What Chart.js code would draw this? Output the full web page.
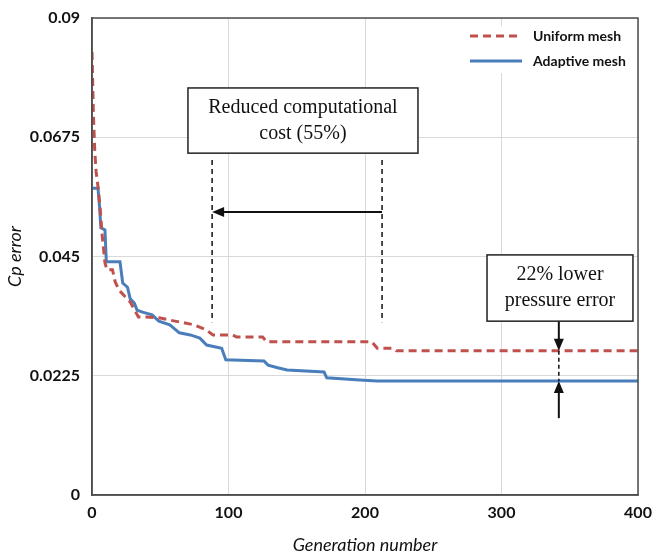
<!DOCTYPE html>
<html>
<head>
<meta charset="utf-8">
<script src="https://cdn.jsdelivr.net/npm/chart.js@4.4.1/dist/chart.umd.min.js"></script>
<style>
  html, body { margin: 0; padding: 0; background: #fff; }
  #wrap { width: 654px; height: 558px; position: relative; }
</style>
</head>
<body>
<div id="wrap"><canvas id="grafico" width="654" height="558"></canvas></div>
<script>
// ─── Dados ────────────────────────────────────────────────────────────────────
const yTicks = [0, 0.0225, 0.045, 0.0675, 0.09];
const yTickLabels = ['0', '0.0225', '0.045', '0.0675', '0.09'];
const xTicks = [0, 100, 200, 300, 400];

const uniformGen = [0, 1, 2, 3, 4.5, 6, 7.3, 9.5, 11, 15, 17, 20, 28, 34, 40, 50, 57, 75, 84, 88.6, 103, 106, 125, 128, 205, 209, 220, 223, 400];
const uniformErr = [0.0836, 0.072, 0.065, 0.061, 0.058, 0.054, 0.0494, 0.0438, 0.0425, 0.0425, 0.0402, 0.0386, 0.0364, 0.0336, 0.0336, 0.0334, 0.0330, 0.0321, 0.0311, 0.0302, 0.0302, 0.0298, 0.0298, 0.0289, 0.0289, 0.0277, 0.0277, 0.0272, 0.0272];

const adaptiveGen = [0, 4.4, 5.5, 6.5, 9.5, 10.5, 20.5, 22.5, 26, 28, 31, 33, 37, 44, 49, 57, 64, 72, 79, 84, 95, 98, 126, 129, 136, 143, 170, 172, 196, 209, 400];
const adaptiveErr = [0.0579, 0.0579, 0.0545, 0.0504, 0.0500, 0.0440, 0.0440, 0.0400, 0.0392, 0.0370, 0.0362, 0.0349, 0.0345, 0.0340, 0.0328, 0.0321, 0.0306, 0.0302, 0.0296, 0.0283, 0.0277, 0.0255, 0.0253, 0.0245, 0.0240, 0.0236, 0.0232, 0.0221, 0.0217, 0.0215, 0.0215];

const seriesNames = ['Uniform mesh', 'Adaptive mesh'];

// ─── Estilos ──────────────────────────────────────────────────────────────────
const COR_UNIFORME = '#c0504d';
const COR_ADAPTIVA = '#4a7ebb';
const FONTE_EIXO = 'Lato, "Open Sans", sans-serif';
const FONTE_NOTA = '"Liberation Serif", "DejaVu Serif", serif';

function pares(xs, ys) {
  return xs.map((x, i) => ({ x, y: ys[i] }));
}

// ─── Anotações (caixas, setas, tracejados) ───────────────────────────────────
function seta(ctx, x1, y1, x2, y2) {
  const ang = Math.atan2(y2 - y1, x2 - x1);
  const tam = 12;
  ctx.beginPath();
  ctx.moveTo(x1, y1);
  ctx.lineTo(x2 - Math.cos(ang) * tam * 0.8, y2 - Math.sin(ang) * tam * 0.8);
  ctx.stroke();
  ctx.beginPath();
  ctx.moveTo(x2, y2);
  ctx.lineTo(x2 - tam * Math.cos(ang) + 5 * Math.sin(ang), y2 - tam * Math.sin(ang) - 5 * Math.cos(ang));
  ctx.lineTo(x2 - tam * Math.cos(ang) - 5 * Math.sin(ang), y2 - tam * Math.sin(ang) + 5 * Math.cos(ang));
  ctx.closePath();
  ctx.fill();
}

function caixaTexto(ctx, x1, y1, x2, y2, linhas) {
  ctx.fillStyle = '#fff';
  ctx.fillRect(x1, y1, x2 - x1, y2 - y1);
  ctx.strokeStyle = '#222';
  ctx.lineWidth = 1.5;
  ctx.strokeRect(x1, y1, x2 - x1, y2 - y1);
  ctx.fillStyle = '#111';
  ctx.font = '20px ' + FONTE_NOTA;
  ctx.textAlign = 'center';
  ctx.textBaseline = 'middle';
  const cx = (x1 + x2) / 2;
  const cy = (y1 + y2) / 2;
  const passo = 26;
  linhas.forEach((t, i) => ctx.fillText(t, cx, cy + (i - (linhas.length - 1) / 2) * passo));
}

const anotacoes = {
  id: 'anotacoes',
  afterDraw(chart) {
    const { ctx, chartArea: a, scales: { x, y } } = chart;
    const px = v => x.getPixelForValue(v);
    const py = v => y.getPixelForValue(v);

    // moldura do gráfico
    ctx.save();
    ctx.strokeStyle = '#4d4d4d';
    ctx.lineWidth = 1.5;
    ctx.strokeRect(a.left, a.top, a.right - a.left, a.bottom - a.top);

    // custo computacional
    ctx.strokeStyle = '#111';
    ctx.fillStyle = '#111';
    ctx.lineWidth = 1.5;
    ctx.setLineDash([5, 4]);
    [88, 212.5].forEach(g => {
      ctx.beginPath();
      ctx.moveTo(px(g), py(0.0632));
      ctx.lineTo(px(g), py(0.0326));
      ctx.stroke();
    });
    ctx.setLineDash([]);
    ctx.lineWidth = 2;
    seta(ctx, px(212.5), py(0.0534), px(88), py(0.0534));
    caixaTexto(ctx, px(70.3), py(0.0768), px(238.8), py(0.0645),
      ['Reduced computational', 'cost (55%)']);

    // diferença final de erro
    const gx = px(342);
    const fimU = uniformErr[uniformErr.length - 1];
    const fimA = adaptiveErr[adaptiveErr.length - 1];
    ctx.strokeStyle = '#111';
    ctx.fillStyle = '#111';
    ctx.lineWidth = 1.5;
    ctx.setLineDash([4, 3]);
    ctx.beginPath();
    ctx.moveTo(gx, py(fimU));
    ctx.lineTo(gx, py(fimA));
    ctx.stroke();
    ctx.setLineDash([]);
    ctx.lineWidth = 2;
    seta(ctx, gx, py(0.0328), gx, py(fimU));
    seta(ctx, gx, py(0.0145), gx, py(fimA));
    caixaTexto(ctx, px(289.4), py(0.0453), px(396.3), py(0.0328),
      ['22% lower', 'pressure error']);

    // legenda
    ctx.fillStyle = '#fff';
    ctx.fillRect(462, 26, 172, 47);
    chart.data.datasets.forEach((ds, i) => {
      const yy = 36 + i * 25;
      ctx.strokeStyle = ds.borderColor;
      ctx.lineWidth = 3;
      ctx.setLineDash(ds.borderDash || []);
      ctx.beginPath();
      ctx.moveTo(470, yy);
      ctx.lineTo(522, yy);
      ctx.stroke();
      ctx.setLineDash([]);
      ctx.fillStyle = '#111';
      ctx.font = 'bold 14px ' + FONTE_EIXO;
      ctx.textAlign = 'left';
      ctx.textBaseline = 'middle';
      ctx.fillText(ds.label, 533, yy);
    });
    ctx.restore();
  }
};

// ─── Gráfico ──────────────────────────────────────────────────────────────────
new Chart(document.getElementById('grafico'), {
  type: 'line',
  data: {
    datasets: [
      {
        label: seriesNames[0],
        data: pares(uniformGen, uniformErr),
        borderColor: COR_UNIFORME,
        borderWidth: 3,
        borderDash: [8, 5],
        pointRadius: 0,
        tension: 0,
        fill: false,
      },
      {
        label: seriesNames[1],
        data: pares(adaptiveGen, adaptiveErr),
        borderColor: COR_ADAPTIVA,
        borderWidth: 3,
        pointRadius: 0,
        tension: 0,
        fill: false,
      },
    ],
  },
  options: {
    responsive: false,
    animation: false,
    layout: { padding: { top: 18, right: 16, left: 0, bottom: 0 } },
    plugins: { legend: { display: false }, tooltip: { enabled: false } },
    scales: {
      x: {
        type: 'linear',
        min: 0, max: 400,
        afterBuildTicks: s => { s.ticks = xTicks.map(v => ({ value: v })); },
        afterFit: s => { s.height = 63; s.paddingLeft = 0; s.paddingRight = 0; },
        grid: { color: '#d9d9d9', lineWidth: 1, drawTicks: false },
        border: { color: '#4d4d4d', width: 1.5 },
        ticks: { color: '#111', padding: 8, font: { family: FONTE_EIXO, size: 16, weight: 'bold' } },
        title: {
          display: true, text: 'Generation number', color: '#111',
          font: { family: FONTE_EIXO, size: 18, style: 'italic' }, padding: { top: 4, bottom: 2 },
        },
      },
      y: {
        min: 0, max: 0.09,
        afterBuildTicks: s => { s.ticks = yTicks.map(v => ({ value: v })); },
        afterFit: s => { s.width = 92; s.paddingTop = 0; s.paddingBottom = 0; },
        grid: { color: '#d9d9d9', lineWidth: 1, drawTicks: false },
        border: { color: '#4d4d4d', width: 1.5 },
        ticks: {
          color: '#111', padding: 12,
          font: { family: FONTE_EIXO, size: 16, weight: 'bold' },
          callback: (v, i) => yTickLabels[yTicks.indexOf(v)] ?? '',
        },
        title: {
          display: true, text: 'Cp error', color: '#111',
          font: { family: FONTE_EIXO, size: 18, style: 'italic' }, padding: { top: 4, bottom: 0 },
        },
      },
    },
  },
  plugins: [anotacoes],
});
</script>
</body>
</html>
